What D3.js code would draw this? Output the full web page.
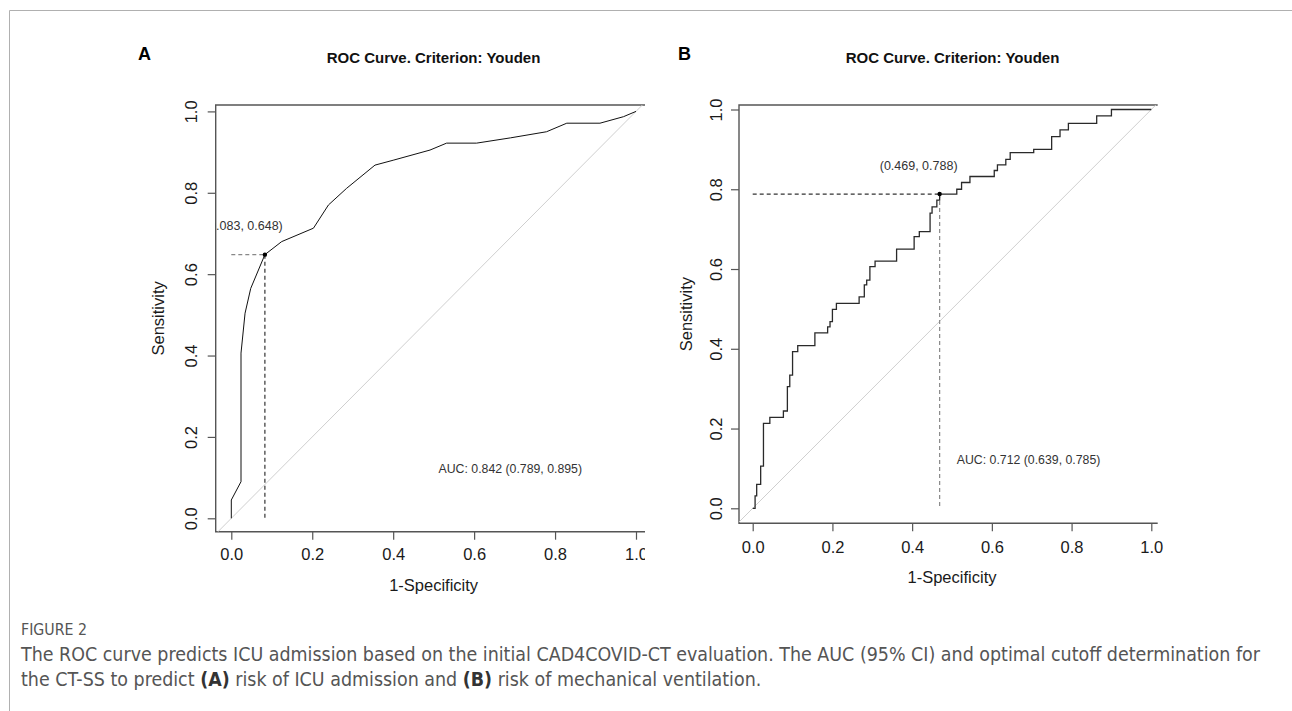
<!DOCTYPE html>
<html>
<head>
<meta charset="utf-8">
<script src="https://cdn.jsdelivr.net/npm/d3@7"></script>
<style>
  body { margin: 0; background: #fff; }
  svg { display: block; }
</style>
</head>
<body>
<script>
// ---- data ----
const ticks = [0, 0.2, 0.4, 0.6, 0.8, 1.0];
const titleText = "ROC Curve. Criterion: Youden";

// panel A: smoothed ROC (1-specificity, sensitivity)
const fprA = [0, 0, 0.024, 0.024, 0.034, 0.048, 0.083, 0.1245, 0.203, 0.24, 0.285, 0.355, 0.4, 0.491, 0.532, 0.606, 0.69, 0.779, 0.829, 0.911, 0.969, 1.0];
const tprA = [0, 0.045, 0.09, 0.406, 0.504, 0.565, 0.648, 0.68, 0.713, 0.77, 0.811, 0.868, 0.88, 0.905, 0.922, 0.922, 0.935, 0.95, 0.971, 0.971, 0.987, 1.0];
const bestA = [0.083, 0.648];
const aucA = "AUC: 0.842 (0.789, 0.895)";

// panel B: empirical ROC, steps (x where the rise happens, sensitivity after it)
const fprB = [0, 0.006, 0.01, 0.02, 0.027, 0.043, 0.077, 0.087, 0.093, 0.1, 0.113, 0.156, 0.188, 0.194, 0.2, 0.21, 0.267, 0.28, 0.286, 0.294, 0.307, 0.361, 0.405, 0.418, 0.445, 0.45, 0.462, 0.469, 0.512, 0.524, 0.545, 0.606, 0.614, 0.635, 0.646, 0.705, 0.75, 0.771, 0.792, 0.863, 0.9, 1.0];
const tprB = [0, 0.031, 0.06, 0.106, 0.213, 0.228, 0.244, 0.305, 0.334, 0.393, 0.408, 0.44, 0.455, 0.468, 0.499, 0.514, 0.53, 0.56, 0.572, 0.606, 0.62, 0.65, 0.681, 0.694, 0.74, 0.756, 0.773, 0.788, 0.8, 0.817, 0.832, 0.847, 0.861, 0.875, 0.892, 0.9, 0.932, 0.949, 0.965, 0.984, 1.0, 1.0];
const bestB = [0.469, 0.788];
const aucB = "AUC: 0.712 (0.639, 0.785)";

const captionHead = "FIGURE 2";
const captionLine1 = "The ROC curve predicts ICU admission based on the initial CAD4COVID-CT evaluation. The AUC (95% CI) and optimal cutoff determination for";

const W = 1292, H = 711;
const FONT = "Liberation Sans, Arial, sans-serif";

const svg = d3.select("body").append("svg")
    .attr("width", W)
    .attr("height", H);

// outer frame
svg.append("path")
    .attr("d", "M9.5,711 V10.5 H1292")
    .attr("fill", "none")
    .attr("stroke", "#b0b0b0")
    .attr("stroke-width", 1);

const panels = [
    {id: "A", fpr: fprA, tpr: tprA, best: bestA, auc: aucA, step: false,
     xr: [231.3, 636], yr: [518.3, 111.4],
     box: {l: 215.7, t: 105, r: 645, b: 531.7}, cut: 645,
     letterX: 138, titleX: 433.5,
     yLab: 19, xLabPad: 8.6, xTitleY: 591, yTitleX: 164,
     hCol: "#888", vCol: "#333", lw: 1, lc: "#111"},
    {id: "B", fpr: fprB, tpr: tprB, best: bestB, auc: aucB, step: true,
     xr: [752.7, 1151.3], yr: [508.3, 109.5],
     box: {l: 739, t: 105, r: 1157.7, b: 523.3}, cut: 1200,
     letterX: 678, titleX: 952.5,
     yLab: 17.3, xLabPad: 10.4, xTitleY: 583, yTitleX: 692,
     hCol: "#333", vCol: "#888", lw: 1.3, lc: "#2a2a2a"}
];

panels.forEach(p => {
    let x = d3.scaleLinear().domain([0, 1]).range(p.xr);
    let y = d3.scaleLinear().domain([0, 1]).range(p.yr);

    // clip for the cropped right side
    svg.append("clipPath").attr("id", "cut" + p.id)
        .append("rect").attr("x", 0).attr("y", 0).attr("width", p.cut).attr("height", H);
    svg.append("clipPath").attr("id", "box" + p.id)
        .append("rect")
        .attr("x", p.box.l).attr("y", p.box.t)
        .attr("width", p.box.r - p.box.l).attr("height", p.box.b - p.box.t);

    let g = svg.append("g").attr("clip-path", "url(#cut" + p.id + ")");

    // panel letter and title
    g.append("text")
        .attr("x", p.letterX).attr("y", 60)
        .attr("font-family", FONT).attr("font-weight", "bold").attr("font-size", 18)
        .text(p.id);
    g.append("text")
        .attr("x", p.titleX).attr("y", 62.5)
        .attr("text-anchor", "middle")
        .attr("font-family", FONT).attr("font-weight", "bold").attr("font-size", 15)
        .attr("fill", "#111")
        .text(titleText);

    // x axis
    let xa = g.append("g")
        .attr("transform", "translate(0," + p.box.b + ")")
        .call(d3.axisBottom(x).tickValues(ticks).tickFormat(d3.format(".1f"))
            .tickSize(8).tickPadding(p.xLabPad));
    xa.select(".domain").remove();
    xa.selectAll("line").attr("stroke", "#555").attr("stroke-width", 1.2);
    xa.selectAll("text").attr("font-family", FONT).attr("font-size", 16.5).attr("fill", "#1a1a1a");

    // y axis, labels turned like R does
    let ya = g.append("g")
        .attr("transform", "translate(" + p.box.l + ",0)")
        .call(d3.axisLeft(y).tickValues(ticks).tickFormat(d3.format(".1f")).tickSize(8));
    ya.select(".domain").remove();
    ya.selectAll("line").attr("stroke", "#555").attr("stroke-width", 1.2);
    ya.selectAll("text")
        .attr("x", null).attr("dy", null)
        .attr("transform", "translate(" + (-p.yLab) + ",0) rotate(-90)")
        .attr("text-anchor", "middle")
        .attr("font-family", FONT).attr("font-size", 16.5).attr("fill", "#1a1a1a");

    // axis titles
    g.append("text")
        .attr("x", (p.box.l + p.xr[1] + (p.xr[0] - p.box.l)) / 2).attr("y", p.xTitleY)
        .attr("text-anchor", "middle")
        .attr("font-family", FONT).attr("font-size", 16.5).attr("fill", "#1a1a1a")
        .text("1-Specificity");
    g.append("text")
        .attr("transform", "translate(" + p.yTitleX + "," + ((p.box.t + p.box.b) / 2) + ") rotate(-90)")
        .attr("text-anchor", "middle")
        .attr("font-family", FONT).attr("font-size", 16.5).attr("fill", "#1a1a1a")
        .text("Sensitivity");

    // box: top, left, bottom
    g.append("path")
        .attr("d", "M" + p.box.r + "," + p.box.t + " H" + p.box.l + " V" + p.box.b + " H" + p.box.r)
        .attr("fill", "none").attr("stroke", "#555").attr("stroke-width", 1.4);

    let plot = g.append("g").attr("clip-path", "url(#box" + p.id + ")");

    // chance line
    plot.append("line")
        .attr("x1", x(-0.1)).attr("y1", y(-0.1))
        .attr("x2", x(1.1)).attr("y2", y(1.1))
        .attr("stroke", "#cfcfcf").attr("stroke-width", 1);

    // cutoff guides
    plot.append("line")
        .attr("x1", x(0)).attr("x2", x(p.best[0]))
        .attr("y1", y(p.best[1])).attr("y2", y(p.best[1]))
        .attr("stroke", p.hCol).attr("stroke-width", 1.2).attr("stroke-dasharray", "4,3");
    plot.append("line")
        .attr("x1", x(p.best[0])).attr("x2", x(p.best[0]))
        .attr("y1", y(p.best[1])).attr("y2", y(0))
        .attr("stroke", p.vCol).attr("stroke-width", 1.2).attr("stroke-dasharray", "4,3");

    // the curve
    let pts = p.fpr.map((v, i) => [v, p.tpr[i]]);
    let line = d3.line()
        .x(d => x(d[0]))
        .y(d => y(d[1]))
        .curve(p.step ? d3.curveStepAfter : d3.curveLinear);
    plot.append("path")
        .datum(pts)
        .attr("d", line)
        .attr("fill", "none")
        .attr("stroke", p.lc)
        .attr("stroke-width", p.lw);

    plot.append("circle")
        .attr("cx", x(p.best[0])).attr("cy", y(p.best[1]))
        .attr("r", 2.2).attr("fill", "#000");

    // labels
    plot.append("text")
        .attr("x", x(p.best[0]) - 21).attr("y", y(p.best[1]) - 28.5)
        .attr("dominant-baseline", "central")
        .attr("text-anchor", "middle")
        .attr("font-family", FONT).attr("font-size", 12.5).attr("fill", "#333")
        .text("(" + p.best[0].toFixed(3) + ", " + p.best[1].toFixed(3) + ")");
    plot.append("text")
        .attr("x", x(0.512)).attr("y", y(0.122))
        .attr("dominant-baseline", "central")
        .attr("font-family", FONT).attr("font-size", 12.3).attr("fill", "#333")
        .text(p.auc);
});

// caption, narrow face stretched to the measured line width
const CAP = "Liberation Sans Narrow, DejaVu Sans Condensed, Open Sans, sans-serif";
let head = svg.append("text")
    .attr("x", 21).attr("y", 635)
    .attr("font-family", CAP).attr("font-size", 12).attr("fill", "#555")
    .text(captionHead);
head.attr("font-size", 12 * 66 / head.node().getComputedTextLength());

let l1 = svg.append("text")
    .attr("x", 21).attr("y", 661)
    .attr("font-family", CAP).attr("font-size", 15).attr("fill", "#555")
    .text(captionLine1);
let fs = 15 * 1240 / l1.node().getComputedTextLength();
l1.attr("font-size", fs);

let l2 = svg.append("text")
    .attr("x", 21).attr("y", 686)
    .attr("font-family", CAP).attr("font-size", fs).attr("fill", "#555");
l2.append("tspan").text("the CT-SS to predict ");
l2.append("tspan").attr("font-weight", "bold").attr("fill", "#333").text("(A)");
l2.append("tspan").text(" risk of ICU admission and ");
l2.append("tspan").attr("font-weight", "bold").attr("fill", "#333").text("(B)");
l2.append("tspan").text(" risk of mechanical ventilation.");
</script>
</body>
</html>
